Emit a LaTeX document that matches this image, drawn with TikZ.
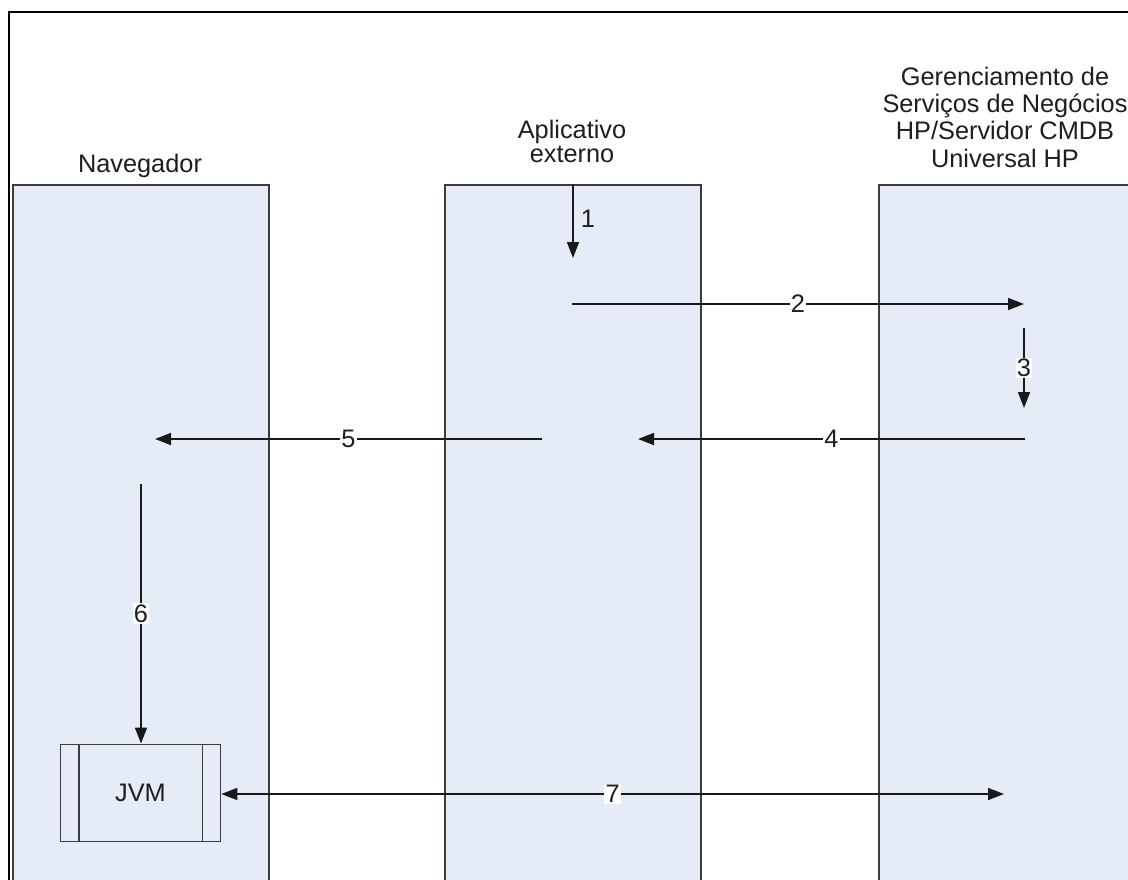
\documentclass[tikz,border=0pt]{standalone}
\usepackage{fontspec}
\setmainfont{Liberation Sans}
\usetikzlibrary{arrows.meta}
\definecolor{lanefill}{RGB}{230,236,247}
\definecolor{lanedraw}{RGB}{60,60,60}
\definecolor{txt}{RGB}{30,30,30}
\begin{document}
\begin{tikzpicture}[x=0.75pt,y=-0.75pt,
  lane/.style={draw=lanedraw,fill=lanefill,line width=1.4pt,anchor=north west,inner sep=0pt,minimum height=530pt},
  arr/.style={draw=black!90,line width=1.2pt,-{Triangle[length=12pt,width=9pt]}},
  biarr/.style={draw=black!90,line width=1.2pt,{Triangle[length=12pt,width=9pt]}-{Triangle[length=12pt,width=9pt]}},
  num/.style={fill=white,inner sep=1pt,text=txt,font=\fontsize{19}{20}\selectfont},
  title/.style={text=txt,align=center,inner sep=0pt,anchor=base},
  jvmbox/.style={draw=lanedraw,fill=lanefill,line width=1.2pt,minimum width=120pt,minimum height=73pt,inner sep=0pt,text=txt,font=\fontsize{19}{20}\selectfont}
]
\useasboundingbox (0,0) rectangle (1128,879);
\clip (0,0) rectangle (1128,879);
\fill[white] (0,0) rectangle (1128,879);
% frame
\draw[line width=1.5pt,black] (9,890) -- (9,12) -- (1140,12);
% lanes
\node[lane,minimum width=192pt] (nav) at (12,184) {};
\node[lane,minimum width=192pt] (app) at (444,184) {};
\node[lane,minimum width=197pt] (srv) at (878,184) {};
% titles (base anchor = baseline of last line)
\node[title,font=\fontsize{19}{20}\selectfont] (tnav) at (140,172) {Navegador};
\node[title,font=\fontsize{19}{17.5}\selectfont] (tapp) at (572,162) {Aplicativo\\externo};
\node[title,font=\fontsize{19}{20.3}\selectfont] (tsrv) at (1005,167) {Gerenciamento de\\Serviços de Negócios\\HP/Servidor CMDB\\Universal HP};
% JVM
\node[jvmbox] (jvm) at (140.5,793) {JVM};
\draw[lanedraw,line width=1.2pt] ([xshift=14.25pt]jvm.north west) -- ([xshift=14.25pt]jvm.south west);
\draw[lanedraw,line width=1.2pt] ([xshift=-14.25pt]jvm.north east) -- ([xshift=-14.25pt]jvm.south east);
% coordinates
\coordinate (c1s) at (573,184);
\coordinate (c1e) at (573,258);
\coordinate (c2s) at (572,304);
\coordinate (c2e) at (1024,304);
\coordinate (c3s) at (1024,328);
\coordinate (c3e) at (1024,408);
\coordinate (c4s) at (1025,439);
\coordinate (c4e) at (638,439);
\coordinate (c5s) at (542,439);
\coordinate (c5e) at (155,439);
\coordinate (c6s) at (141,484);
\coordinate (c7e) at (1004,794);
% arrows
\draw[arr] (c1s) -- (c1e);
\node[num,fill=none] (n1) at (588,219) {1};
\draw[arr] (c2s) -- node[num] (n2) {2} (c2e);
\draw[arr] (c3s) -- node[num] (n3) {3} (c3e);
\draw[arr] (c4s) -- node[num] (n4) {4} (c4e);
\draw[arr] (c5s) -- node[num] (n5) {5} (c5e);
\draw[arr] (c6s) -- node[num] (n6) {6} (c6s |- jvm.north);
\draw[biarr] (jvm.east |- c7e) -- node[num] (n7) {7} (c7e);
\end{tikzpicture}
\end{document}
